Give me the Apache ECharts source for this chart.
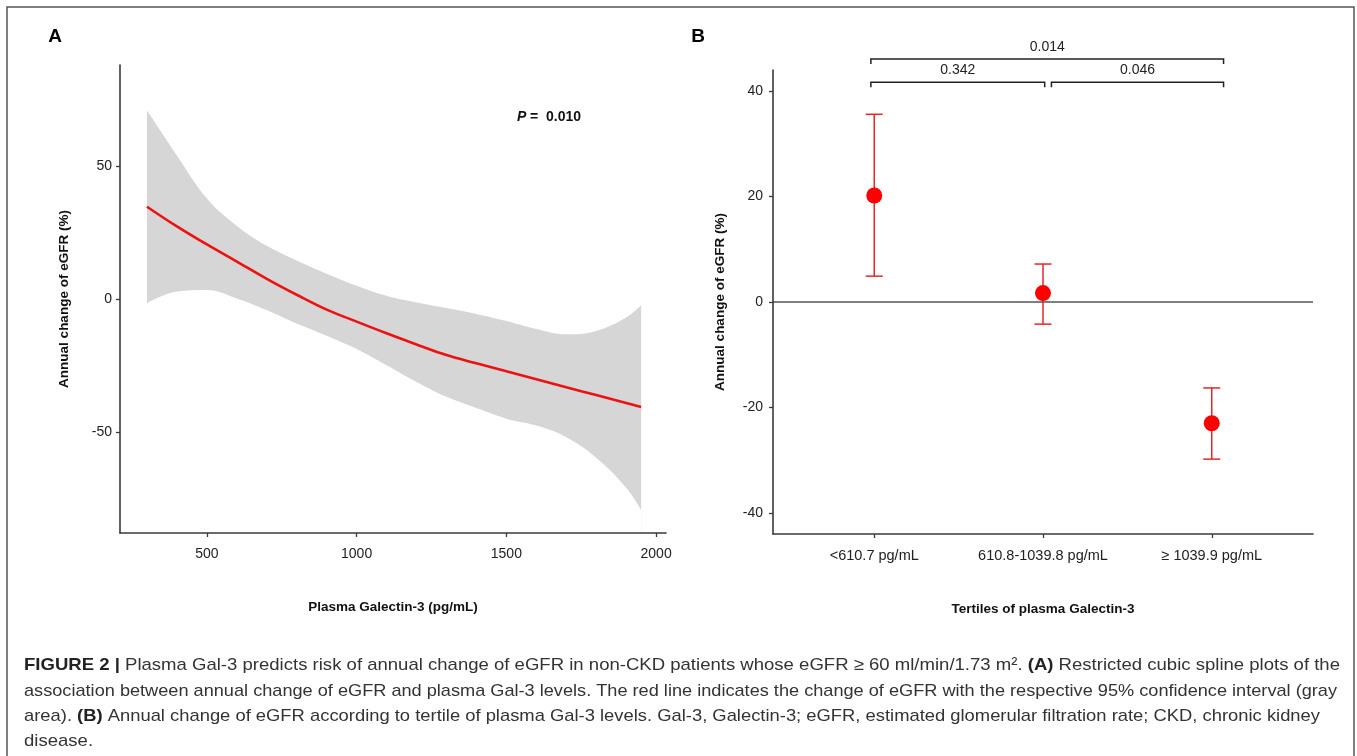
<!DOCTYPE html>
<html>
<head>
<meta charset="utf-8">
<title>Gal-3 and annual change of eGFR</title>
<script src="https://cdn.jsdelivr.net/npm/echarts@6/dist/echarts.min.js"></script>
<style>
  html, body { margin: 0; padding: 0; background: #fff; }
  #main { width: 1357px; height: 756px; }
</style>
</head>
<body>
<div id="main"></div>
<script>
// ---- panel A : restricted cubic spline ----
var splineX     = [300, 400, 500, 600, 700, 800, 900, 1000, 1100, 1200, 1300, 1400, 1500, 1600, 1700, 1800, 1900, 1950];
var splineFit   = [34.7, 27.3, 20.5, 14.1, 7.6, 1.6, -4.0, -8.5, -12.9, -17.1, -21.1, -24.2, -27.2, -30.2, -33.2, -36.1, -39.1, -40.6];
var splineUpper = [71.0, 54.0, 37.8, 27.5, 20.0, 14.5, 9.5, 5.0, 1.2, -1.3, -3.4, -5.6, -8.3, -11.3, -13.3, -12.0, -7.0, -2.3];
var splineLower = [-1.6, 2.8, 3.4, 0.2, -4.2, -9.2, -13.8, -18.8, -24.9, -31.2, -36.8, -41.0, -45.0, -47.6, -52.0, -59.7, -71.0, -79.3];
var ticksAX = [500, 1000, 1500, 2000];
var ticksAY = [-50, 0, 50];

// ---- panel B : tertiles ----
var tertiles    = ['<610.7 pg/mL', '610.8-1039.8 pg/mL', '\u2265 1039.9 pg/mL'];
var tertileMean = [20.2, 1.7, -23.0];
var tertileLow  = [4.9, -4.2, -29.8];
var tertileHigh = [35.6, 7.2, -16.3];
var ticksBY = [-40, -20, 0, 20, 40];

// significance brackets (x in tertile units, y in %)
var pLabels = ['0.342', '0.046', '0.014'];
var pFrom   = [0.98, 2.05, 0.98];
var pTo     = [2.01, 3.07, 3.07];
var pLevel  = [41.7, 41.7, 46.1];

var captionLines = [
  '{b|FIGURE 2 |} Plasma Gal-3 predicts risk of annual change of eGFR in non-CKD patients whose eGFR \u2265 60 ml/min/1.73 m\u00b2. {b|(A)} Restricted cubic spline plots of the',
  'association between annual change of eGFR and plasma Gal-3 levels. The red line indicates the change of eGFR with the respective 95% confidence interval (gray',
  'area). {b|(B)} Annual change of eGFR according to tertile of plasma Gal-3 levels. Gal-3, Galectin-3; eGFR, estimated glomerular filtration rate; CKD, chronic kidney',
  'disease.'
];
var captionWidths = [1316, 1313, 1296, 0];   // 0 = keep scale of the first line

var FONT = 'Liberation Sans, Arial, sans-serif';
var CAP_SIZE = 17;

// measure a rich caption line so it can be fitted to the page width
var ctx = document.createElement('canvas').getContext('2d');
function richWidth(str) {
  var w = 0, re = /\{b\|([^}]*)\}/g, last = 0, m;
  while ((m = re.exec(str)) !== null) {
    ctx.font = CAP_SIZE + 'px ' + FONT;
    w += ctx.measureText(str.slice(last, m.index)).width;
    ctx.font = 'bold ' + CAP_SIZE + 'px ' + FONT;
    w += ctx.measureText(m[1]).width;
    last = re.lastIndex;
  }
  ctx.font = CAP_SIZE + 'px ' + FONT;
  w += ctx.measureText(str.slice(last)).width;
  return w;
}

var tickStyle = { color: '#3a3a3a', width: 1.3 };
var labelStyle = { fontSize: 14, color: '#222', fontFamily: FONT };
var nameStyle = { fontFamily: FONT, fontWeight: 'bold', fontSize: 13.5, color: '#111' };

function valueAxis(extra) {
  return Object.assign({
    type: 'value', z: 10,
    axisLine: { onZero: false, lineStyle: { color: '#3a3a3a', width: 1.6 } },
    splitLine: { show: false },
    nameLocation: 'middle',
    nameTextStyle: nameStyle
  }, extra);
}

var lineData = function (ys) { return splineX.map(function (x, i) { return [x, ys[i]]; }); };

var myChart = echarts.init(document.getElementById('main'));

var graphics = [
  { type: 'rect', shape: { x: 7, y: 7, width: 1347, height: 800 }, style: { fill: 'none', stroke: '#555', lineWidth: 1.5 }, silent: true },
  { type: 'text', x: 55, y: 37, style: { text: 'A', font: 'bold 19px ' + FONT, fill: '#000', textAlign: 'center', textVerticalAlign: 'middle' } },
  { type: 'text', x: 698, y: 37, style: { text: 'B', font: 'bold 19px ' + FONT, fill: '#000', textAlign: 'center', textVerticalAlign: 'middle' } },
  { type: 'text', x: 517, y: 117, z: 20, style: { text: 'P', font: 'italic bold 14px ' + FONT, fill: '#111', textAlign: 'left', textVerticalAlign: 'middle' } },
  { type: 'text', x: 530, y: 117, z: 20, style: { text: '=  0.010', font: 'bold 14px ' + FONT, fill: '#111', textAlign: 'left', textVerticalAlign: 'middle' } }
];
var capY = [665, 691, 716, 741];
var baseScale = captionWidths[0] / richWidth(captionLines[0]);
captionLines.forEach(function (t, i) {
  var s = captionWidths[i] ? captionWidths[i] / richWidth(t) : baseScale;
  graphics.push({
    type: 'text', x: 24, y: capY[i], scaleX: s,
    style: {
      text: t, textAlign: 'left', textVerticalAlign: 'middle',
      fontFamily: FONT, fontSize: CAP_SIZE, fill: '#333',
      rich: { b: { fontFamily: FONT, fontSize: CAP_SIZE, fontWeight: 'bold', fill: '#222' } }
    }
  });
});

var option = {
  backgroundColor: '#fff',
  animation: false,
  textStyle: { fontFamily: FONT },
  grid: [
    { left: 120, top: 65, width: 546, height: 468, outerBoundsMode: 'none' },
    { left: 773, top: 70, width: 540, height: 464, outerBoundsMode: 'none' }
  ],
  xAxis: [
    valueAxis({
      gridIndex: 0, min: 210, max: 2033,
      name: 'Plasma Galectin-3 (pg/mL)', nameGap: 67,
      axisTick: { length: 4, customValues: ticksAX, lineStyle: tickStyle },
      axisLabel: Object.assign({ customValues: ticksAX, margin: 14, formatter: function (v) { return String(v); } }, labelStyle)
    }),
    valueAxis({
      gridIndex: 1, min: 0.4, max: 3.6,
      name: 'Tertiles of plasma Galectin-3', nameGap: 68,
      axisTick: { length: 4, customValues: [1, 2, 3], lineStyle: tickStyle },
      axisLabel: Object.assign({
        customValues: [1, 2, 3], margin: 14,
        formatter: function (v) { return tertiles[Math.round(v) - 1]; }
      }, labelStyle, { fontSize: 14.5 })
    })
  ],
  yAxis: [
    valueAxis({
      gridIndex: 0, min: -88, max: 88,
      name: 'Annual change of eGFR (%)', nameGap: 49,
      axisTick: { length: 4, customValues: ticksAY, lineStyle: tickStyle },
      axisLabel: Object.assign({ customValues: ticksAY, margin: 8 }, labelStyle)
    }),
    valueAxis({
      gridIndex: 1, min: -44, max: 44,
      name: 'Annual change of eGFR (%)', nameGap: 46,
      axisTick: { length: 4, customValues: ticksBY, lineStyle: tickStyle },
      axisLabel: Object.assign({ customValues: ticksBY, margin: 10 }, labelStyle)
    })
  ],
  series: [
    // 95% CI band: grey area under the upper bound, then white area under the lower bound
    {
      type: 'line', xAxisIndex: 0, yAxisIndex: 0, data: lineData(splineUpper),
      smooth: 0.4, symbol: 'none', z: 1, silent: true,
      lineStyle: { width: 0, opacity: 0 },
      areaStyle: { color: '#d6d6d6', opacity: 1, origin: 'start' }
    },
    {
      type: 'line', xAxisIndex: 0, yAxisIndex: 0, data: lineData(splineLower),
      smooth: 0.4, symbol: 'none', z: 2, silent: true,
      lineStyle: { width: 0, opacity: 0 },
      areaStyle: { color: '#ffffff', opacity: 1, origin: 'start' }
    },
    {
      type: 'line', xAxisIndex: 0, yAxisIndex: 0, data: lineData(splineFit),
      smooth: 0.4, symbol: 'none', lineStyle: { color: '#ee1111', width: 2.6 }, z: 5
    },
    // zero reference line in B
    {
      type: 'line', xAxisIndex: 1, yAxisIndex: 1, data: [], z: 1,
      markLine: {
        silent: true, symbol: 'none', label: { show: false },
        lineStyle: { color: '#555', width: 1.5, type: 'solid' },
        data: [{ yAxis: 0 }]
      }
    },
    // error bars
    {
      type: 'custom', xAxisIndex: 1, yAxisIndex: 1, z: 3,
      data: tertileMean.map(function (m, i) { return [i + 1, tertileLow[i], tertileHigh[i]]; }),
      encode: { x: 0, y: [1, 2] },
      renderItem: function (params, api) {
        var lo = api.coord([api.value(0), api.value(1)]);
        var hi = api.coord([api.value(0), api.value(2)]);
        var w = 8.5;
        var st = { stroke: '#e8262a', lineWidth: 1.5 };
        return { type: 'group', children: [
          { type: 'line', shape: { x1: lo[0], y1: lo[1], x2: hi[0], y2: hi[1] }, style: st },
          { type: 'line', shape: { x1: lo[0] - w, y1: lo[1], x2: lo[0] + w, y2: lo[1] }, style: st },
          { type: 'line', shape: { x1: hi[0] - w, y1: hi[1], x2: hi[0] + w, y2: hi[1] }, style: st }
        ] };
      }
    },
    // means
    {
      type: 'scatter', xAxisIndex: 1, yAxisIndex: 1, z: 4,
      data: tertileMean.map(function (m, i) { return [i + 1, m]; }),
      symbol: 'circle', symbolSize: 16, itemStyle: { color: '#ff0000', opacity: 1 }
    },
    // significance brackets
    {
      type: 'custom', xAxisIndex: 1, yAxisIndex: 1, clip: false, z: 3,
      data: pLabels.map(function (l, i) { return [pFrom[i], pTo[i], pLevel[i]]; }),
      encode: { x: [0, 1], y: 2 },
      renderItem: function (params, api) {
        var a = api.coord([api.value(0), api.value(2)]);
        var b = api.coord([api.value(1), api.value(2)]);
        var tip = 5;
        var st = { stroke: '#222', lineWidth: 1.5, fill: 'none' };
        return { type: 'group', children: [
          { type: 'polyline', shape: { points: [[a[0], a[1] + tip], a, b, [b[0], b[1] + tip]] }, style: st },
          { type: 'text', x: (a[0] + b[0]) / 2, y: a[1] - 12,
            style: { text: pLabels[params.dataIndex], textAlign: 'center', textVerticalAlign: 'middle',
                     font: '14px ' + FONT, fill: '#222' } }
        ] };
      }
    }
  ],
  graphic: graphics
};

myChart.setOption(option);
</script>
</body>
</html>
